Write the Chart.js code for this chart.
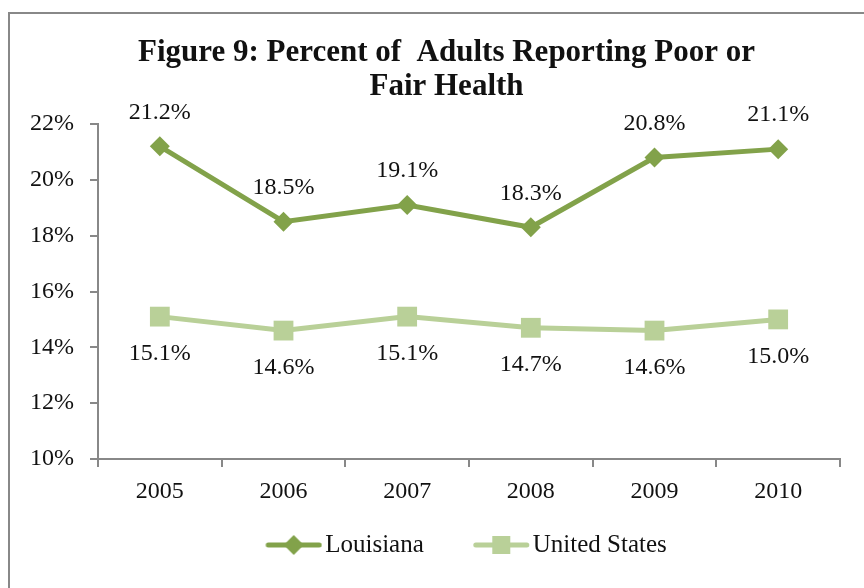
<!DOCTYPE html>
<html>
<head>
<meta charset="utf-8">
<script src="https://cdn.jsdelivr.net/npm/chart.js@4.4.1/dist/chart.umd.min.js"></script>
<style>
  html, body { margin: 0; padding: 0; background: #ffffff; }
  #wrap { position: relative; width: 864px; height: 588px; overflow: hidden; }
  #frame { position: absolute; left: 8px; top: 12px; width: 900px; height: 700px;
           border-left: 2px solid #888888; border-top: 2px solid #888888; }
  #c { position: absolute; left: 0; top: 0; }
</style>
</head>
<body>
<div id="wrap">
  <div id="frame"></div>
  <canvas id="c" width="864" height="588"></canvas>
</div>
<script>
// Survey years and share of adults reporting poor or fair health (%)
const years = ['2005', '2006', '2007', '2008', '2009', '2010'];
const louisiana = [21.2, 18.5, 19.1, 18.3, 20.8, 21.1];
const unitedStates = [15.1, 14.6, 15.1, 14.7, 14.6, 15.0];
const yTicks = [10, 12, 14, 16, 18, 20, 22];

const DARK = '#82A24A';
const LIGHT = '#B9D098';
const SERIF = '"Liberation Serif", "Times New Roman", serif';

// Legend geometry: each item's box is wide so the two entries sit well apart;
// the icon draws a 55px line that ends just before the label text.
const LEGEND_FONT = 25;
const LEGEND_PAD = 10;
const LEGEND_BOX = 86.5;

function legendIcon(color, shape) {
  const lineEnd = LEGEND_BOX + LEGEND_FONT / 2 - 4;   // relative to item start
  const lineStart = lineEnd - 55;
  const half = Math.ceil(lineEnd - LEGEND_BOX / 2) + 1;
  const c = document.createElement('canvas');
  c.width = half * 2; c.height = 24;
  const off = half - LEGEND_BOX / 2;                   // item start inside the icon
  const g = c.getContext('2d');
  const x0 = lineStart + off, x1 = lineEnd + off, cy = 12, mid = (x0 + x1) / 2;
  g.strokeStyle = color; g.lineWidth = 5; g.lineCap = 'round';
  g.beginPath(); g.moveTo(x0 + 2, cy); g.lineTo(x1 - 2, cy); g.stroke();
  g.fillStyle = color;
  g.beginPath();
  if (shape === 'diamond') {
    g.moveTo(mid - 10, cy); g.lineTo(mid, cy - 10); g.lineTo(mid + 10, cy); g.lineTo(mid, cy + 10);
  } else {
    g.rect(mid - 9, cy - 9, 18, 18);
  }
  g.closePath(); g.fill();
  return c;
}
const legendIcons = [legendIcon(DARK, 'diamond'), legendIcon(LIGHT, 'square')];

// Value labels: above the Louisiana points, below the United States points
const valueLabels = {
  id: 'valueLabels',
  afterDatasetsDraw(chart) {
    const ctx = chart.ctx;
    ctx.save();
    ctx.font = '24px ' + SERIF;
    ctx.fillStyle = '#111111';
    ctx.textAlign = 'center';
    ctx.textBaseline = 'middle';
    chart.data.datasets.forEach((ds, i) => {
      const meta = chart.getDatasetMeta(i);
      const dy = i === 0 ? -34 : 37;
      meta.data.forEach((pt, j) => {
        ctx.fillText(ds.data[j].toFixed(1) + '%', pt.x, pt.y + dy);
      });
    });
    ctx.restore();
  }
};

new Chart(document.getElementById('c'), {
  type: 'line',
  data: {
    labels: years,
    datasets: [
      {
        label: 'Louisiana',
        data: louisiana,
        borderColor: DARK,
        backgroundColor: DARK,
        borderWidth: 5,
        tension: 0,
        pointStyle: 'rectRot',
        pointRadius: 10,
        pointHoverRadius: 10,
        pointBorderWidth: 0
      },
      {
        label: 'United States',
        data: unitedStates,
        borderColor: LIGHT,
        backgroundColor: LIGHT,
        borderWidth: 5,
        tension: 0,
        pointStyle: 'rect',
        pointRadius: 14,
        pointHoverRadius: 14,
        pointBorderWidth: 0
      }
    ]
  },
  options: {
    responsive: false,
    animation: false,
    events: [],
    layout: { padding: { top: 16, left: 18.5, right: -10.5, bottom: 20.5 } },
    scales: {
      x: {
        offset: true,
        border: { display: true, color: '#888888', width: 2 },
        grid: { display: true, offset: true, drawOnChartArea: false, drawTicks: true,
                tickLength: 8, color: '#888888', lineWidth: 2 },
        ticks: { color: '#111111', font: { family: SERIF, size: 24 }, padding: 10 },
        afterFit(s) { s.height = 63.5; }
      },
      y: {
        min: 10,
        max: 22,
        afterBuildTicks(s) { s.ticks = yTicks.map(v => ({ value: v })); },
        border: { display: true, color: '#888888', width: 2 },
        grid: { display: true, drawOnChartArea: false, drawTicks: true,
                tickLength: 8, color: '#888888', lineWidth: 2 },
        ticks: { color: '#111111', font: { family: SERIF, size: 24 }, padding: 16,
                 callback: v => v + '%' },
        afterFit(s) { s.width = 79.5; }
      },
      // blank right-hand margin so the plot ends where the frame needs it
      margin: {
        type: 'linear',
        position: 'right',
        display: true,
        border: { display: false },
        grid: { display: false },
        ticks: { display: false },
        afterFit(s) { s.width = 34.5; }
      }
    },
    plugins: {
      title: {
        display: true,
        text: ['Figure 9: Percent of  Adults Reporting Poor or', 'Fair Health'],
        color: '#111111',
        font: { family: SERIF, size: 31, weight: 'bold', lineHeight: 1.1 },
        padding: { top: 20, bottom: 19.8 }
      },
      legend: {
        position: 'bottom',
        labels: {
          usePointStyle: true,
          pointStyleWidth: LEGEND_BOX,
          padding: LEGEND_PAD,
          color: '#111111',
          font: { family: SERIF, size: LEGEND_FONT },
          generateLabels(chart) {
            const items = Chart.defaults.plugins.legend.labels.generateLabels(chart);
            items.forEach((it, i) => { it.pointStyle = legendIcons[i]; });
            return items;
          }
        }
      },
      tooltip: { enabled: false }
    }
  },
  plugins: [valueLabels]
});
</script>
</body>
</html>
